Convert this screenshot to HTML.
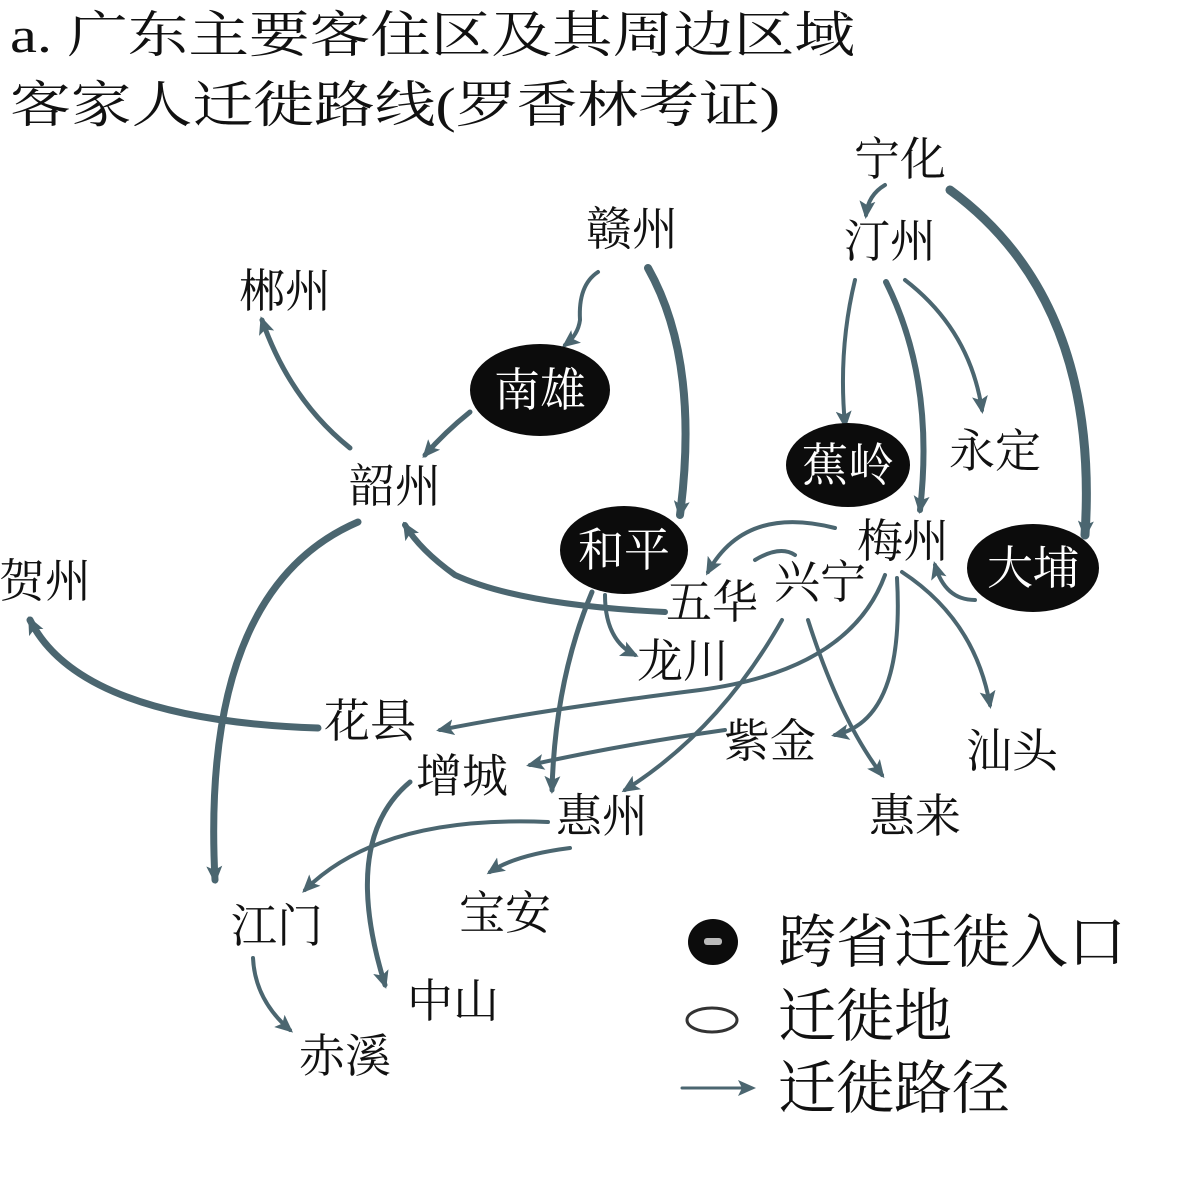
<!DOCTYPE html>
<html><head><meta charset="utf-8"><style>
html,body{margin:0;padding:0;background:#fff;width:1200px;height:1200px;overflow:hidden}
svg{display:block}
text{font-family:"Liberation Serif","Noto Serif CJK SC",serif;fill:#111}
.l{font-size:46px;text-anchor:middle}
.w{fill:#fff}
path{fill:none;stroke:#4b6670;stroke-linecap:round}
</style></head><body>
<svg width="1200" height="1200" viewBox="0 0 1200 1200">
<defs>
<marker id="b" markerWidth="18" markerHeight="16" refX="14" refY="8" orient="auto" markerUnits="userSpaceOnUse"><path d="M0,0 L18,8 L0,16 L4,8 Z" style="fill:#4b6670;stroke:none"/></marker>
</defs>
<text x="10" y="52" font-size="50" textLength="845" lengthAdjust="spacingAndGlyphs">a. 广东主要客住区及其周边区域</text>
<text x="10" y="122" font-size="50" textLength="770" lengthAdjust="spacingAndGlyphs">客家人迁徙路线(罗香林考证)</text>

<g stroke-width="4">
<path d="M885,185 Q868,195 866,215" marker-end="url(#b)"/>
<path d="M950,190 Q1100,300 1085,535" stroke-width="9" marker-end="url(#b)"/>
<path d="M855,280 Q838,350 845,425" marker-end="url(#b)"/>
<path d="M886,282 Q935,380 920,510" stroke-width="6" marker-end="url(#b)"/>
<path d="M905,280 Q970,330 982,410" marker-end="url(#b)"/>
<path d="M598,272 Q578,285 580,320 Q578,335 565,345" marker-end="url(#b)"/>
<path d="M648,268 Q700,360 680,515" stroke-width="8" marker-end="url(#b)"/>
<path d="M470,412 Q445,432 425,455" stroke-width="5" marker-end="url(#b)"/>
<path d="M350,448 Q290,400 262,320" stroke-width="5" marker-end="url(#b)"/>
<path d="M358,522 Q200,590 215,880" stroke-width="7" marker-end="url(#b)"/>
<path d="M665,612 Q520,605 455,575 Q420,550 405,525" stroke-width="6" marker-end="url(#b)"/>
<path d="M835,528 Q745,505 708,572" marker-end="url(#b)"/>
<path d="M795,555 Q780,545 755,560"/>
<path d="M975,600 Q945,600 935,565" marker-end="url(#b)"/>
<path d="M902,572 Q975,620 990,705" marker-end="url(#b)"/>
<path d="M897,578 Q905,720 835,735" marker-end="url(#b)"/>
<path d="M885,575 Q850,670 700,690 Q540,710 440,730" marker-end="url(#b)"/>
<path d="M808,620 Q840,720 882,775" marker-end="url(#b)"/>
<path d="M782,620 Q720,730 625,790" marker-end="url(#b)"/>
<path d="M605,595 Q605,640 635,655" marker-end="url(#b)"/>
<path d="M592,592 Q555,680 552,790" stroke-width="5" marker-end="url(#b)"/>
<path d="M725,730 Q620,745 530,765" marker-end="url(#b)"/>
<path d="M318,728 Q80,720 30,620" stroke-width="7" marker-end="url(#b)"/>
<path d="M570,848 Q515,855 490,872" marker-end="url(#b)"/>
<path d="M548,822 Q380,815 305,890" marker-end="url(#b)"/>
<path d="M410,782 Q340,840 385,985" stroke-width="5" marker-end="url(#b)"/>
<path d="M253,958 Q255,1000 290,1030" marker-end="url(#b)"/>
<path d="M682,1088 L752,1088" stroke-width="3" marker-end="url(#b)"/>
</g>

<ellipse cx="540" cy="390" rx="70" ry="46" fill="#0c0c0c"/>
<ellipse cx="848" cy="465" rx="62" ry="42" fill="#0c0c0c"/>
<ellipse cx="624" cy="550" rx="64" ry="44" fill="#0c0c0c"/>
<ellipse cx="1033" cy="568" rx="66" ry="44" fill="#0c0c0c"/>
<ellipse cx="713" cy="942" rx="25" ry="23" fill="#0c0c0c"/>
<rect x="704" y="938" width="18" height="7" rx="3" fill="#bbb"/>
<ellipse cx="712" cy="1020" rx="25" ry="12" fill="#fff" stroke="#333" stroke-width="3"/>

<text class="l w" x="540" y="406">南雄</text>
<text class="l w" x="848" y="481">蕉岭</text>
<text class="l w" x="624" y="566">和平</text>
<text class="l w" x="1033" y="584">大埔</text>

<text class="l" x="900" y="175">宁化</text>
<text class="l" x="890" y="257">汀州</text>
<text class="l" x="632" y="245">赣州</text>
<text class="l" x="285" y="307">郴州</text>
<text class="l" x="995" y="467">永定</text>
<text class="l" x="395" y="502">韶州</text>
<text class="l" x="903" y="557">梅州</text>
<text class="l" x="45" y="597">贺州</text>
<text class="l" x="712" y="618">五华</text>
<text class="l" x="820" y="598">兴宁</text>
<text class="l" x="683" y="677">龙川</text>
<text class="l" x="370" y="737">花县</text>
<text class="l" x="770" y="757">紫金</text>
<text class="l" x="1012" y="767">汕头</text>
<text class="l" x="462" y="792">增城</text>
<text class="l" x="602" y="832">惠州</text>
<text class="l" x="915" y="832">惠来</text>
<text class="l" x="505" y="929">宝安</text>
<text class="l" x="277" y="942">江门</text>
<text class="l" x="453" y="1017">中山</text>
<text class="l" x="345" y="1072">赤溪</text>

<text x="778" y="962" font-size="58">跨省迁徙入口</text>
<text x="778" y="1036" font-size="58">迁徙地</text>
<text x="778" y="1108" font-size="58">迁徙路径</text>
</svg>
</body></html>
